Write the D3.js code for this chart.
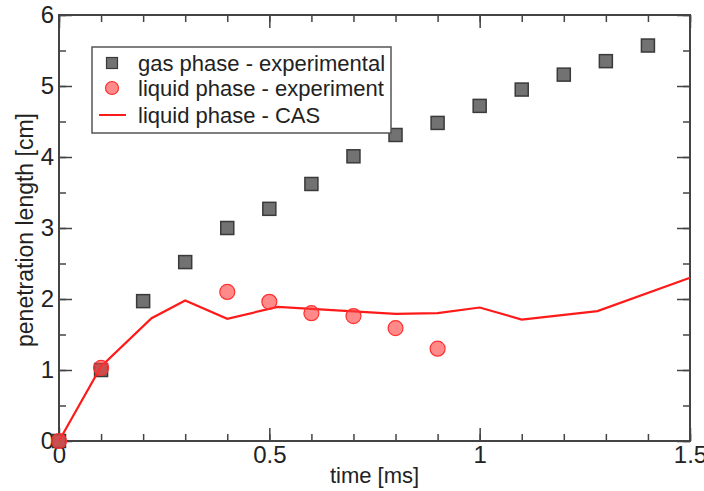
<!DOCTYPE html>
<html>
<head>
<meta charset="utf-8">
<script src="https://cdn.jsdelivr.net/npm/d3@7"></script>
<style>
  body { margin: 0; background: #fff; }
  text { font-family: "Liberation Sans", Arial, sans-serif; fill: #222; }
</style>
</head>
<body>
<div id="chart"></div>
<script>
// gas phase - experimental (squares)
const gasTime = [0, 0.1, 0.2, 0.3, 0.4, 0.5, 0.6, 0.7, 0.8, 0.9, 1.0, 1.1, 1.2, 1.3, 1.4]
const gasLen = [0, 1.0, 1.97, 2.52, 3.0, 3.27, 3.62, 4.01, 4.31, 4.48, 4.72, 4.95, 5.16, 5.35, 5.57]

// liquid phase - experiment (circles)
const liqTime = [0, 0.1, 0.4, 0.5, 0.6, 0.7, 0.8, 0.9]
const liqLen = [0, 1.03, 2.1, 1.96, 1.8, 1.76, 1.59, 1.3]

// liquid phase - CAS (line)
const casTime = [0, 0.1, 0.22, 0.3, 0.4, 0.52, 0.8, 0.9, 1.0, 1.1, 1.28, 1.5]
const casLen = [0, 1.05, 1.73, 1.98, 1.72, 1.89, 1.79, 1.8, 1.88, 1.71, 1.83, 2.3]

const xTicks = [0, 0.5, 1, 1.5]
const yTicks = [0, 1, 2, 3, 4, 5, 6]
const legendLabels = ["gas phase - experimental", "liquid phase - experiment", "liquid phase - CAS"]

/* CONSTANTS */
const width = 704
const height = 491
const margin = { top: 15, bottom: 50, left: 59, right: 14 }

const svg = d3.select("#chart")
  .append("svg")
  .attr("width", width)
  .attr("height", height)

// SCALES
const xScale = d3.scaleLinear()
  .domain([0, 1.5])
  .range([margin.left, width - margin.right])

const yScale = d3.scaleLinear()
  .domain([0, 6])
  .range([height - margin.bottom, margin.top])

const fmt = d => d3.format("~g")(d)
const minorX = d3.range(0, 1.51, 0.1).map(d => +d.toFixed(1))
const minorY = d3.range(0, 6.01, 0.5)

// AXES - ticks point inward on all four sides
function styleAxis(g) {
  g.select(".domain").remove()
  g.selectAll("line").attr("stroke", "#444").attr("stroke-width", 1.5)
  g.selectAll("text").style("font-size", "24px").attr("fill", "#222")
}

// bottom
svg.append("g")
  .attr("transform", `translate(0, ${yScale(0)})`)
  .call(d3.axisBottom(xScale).tickValues(minorX).tickSize(-7).tickFormat(""))
  .call(styleAxis)
svg.append("g")
  .attr("transform", `translate(0, ${yScale(0)})`)
  .call(d3.axisBottom(xScale).tickValues(xTicks).tickSize(-13).tickPadding(5).tickFormat(fmt))
  .call(styleAxis)
// top
svg.append("g")
  .attr("transform", `translate(0, ${yScale(6)})`)
  .call(d3.axisTop(xScale).tickValues(minorX).tickSize(-7).tickFormat(""))
  .call(styleAxis)
svg.append("g")
  .attr("transform", `translate(0, ${yScale(6)})`)
  .call(d3.axisTop(xScale).tickValues(xTicks).tickSize(-13).tickFormat(""))
  .call(styleAxis)
// left
svg.append("g")
  .attr("transform", `translate(${xScale(0)}, 0)`)
  .call(d3.axisLeft(yScale).tickValues(minorY).tickSize(-7).tickFormat(""))
  .call(styleAxis)
svg.append("g")
  .attr("transform", `translate(${xScale(0)}, 0)`)
  .call(d3.axisLeft(yScale).tickValues(yTicks).tickSize(-13).tickPadding(5).tickFormat(fmt))
  .call(styleAxis)
// right
svg.append("g")
  .attr("transform", `translate(${xScale(1.5)}, 0)`)
  .call(d3.axisRight(yScale).tickValues(minorY).tickSize(-7).tickFormat(""))
  .call(styleAxis)
svg.append("g")
  .attr("transform", `translate(${xScale(1.5)}, 0)`)
  .call(d3.axisRight(yScale).tickValues(yTicks).tickSize(-13).tickFormat(""))
  .call(styleAxis)

// frame
svg.append("rect")
  .attr("x", xScale(0))
  .attr("y", yScale(6))
  .attr("width", xScale(1.5) - xScale(0))
  .attr("height", yScale(0) - yScale(6))
  .attr("fill", "none")
  .attr("stroke", "#444")
  .attr("stroke-width", 2)

// axis titles
svg.append("text")
  .attr("x", (xScale(0) + xScale(1.5)) / 2)
  .attr("y", 483)
  .attr("text-anchor", "middle")
  .style("font-size", "22px")
  .text("time [ms]")

svg.append("text")
  .attr("transform", `translate(${33}, ${(yScale(0) + yScale(6)) / 2 + 2}) rotate(-90)`)
  .attr("text-anchor", "middle")
  .style("font-size", "23px")
  .text("penetration length [cm]")

// DATA
const gas = gasTime.map((t, i) => ({ t: t, v: gasLen[i] }))
const liq = liqTime.map((t, i) => ({ t: t, v: liqLen[i] }))
const cas = casTime.map((t, i) => ({ t: t, v: casLen[i] }))

const sq = 13
svg.selectAll(".gas")
  .data(gas)
  .join("rect")
    .attr("class", "gas")
    .attr("x", d => xScale(d.t) - sq / 2)
    .attr("y", d => yScale(d.v) - sq / 2)
    .attr("width", sq)
    .attr("height", sq)
    .attr("fill", "#727272")
    .attr("stroke", "#3a3a3a")
    .attr("stroke-width", 1.5)

const line = d3.line()
  .x(d => xScale(d.t))
  .y(d => yScale(d.v))

svg.append("path")
  .attr("d", line(cas))
  .attr("fill", "none")
  .attr("stroke", "#ff1a1a")
  .attr("stroke-width", 2.2)

svg.selectAll(".liq")
  .data(liq)
  .join("circle")
    .attr("class", "liq")
    .attr("cx", d => xScale(d.t))
    .attr("cy", d => yScale(d.v))
    .attr("r", 7.5)
    .attr("fill", "rgba(255,60,60,0.6)")
    .attr("stroke", "#ff3030")
    .attr("stroke-width", 1.2)

// LEGEND
const legend = svg.append("g").attr("transform", "translate(92, 47)")
legend.append("rect")
  .attr("width", 299)
  .attr("height", 86)
  .attr("fill", "#fff")
  .attr("stroke", "#555")
  .attr("stroke-width", 1.5)

const rowY = [16, 41, 68]
legend.append("rect")
  .attr("x", 20 - 5.5).attr("y", rowY[0] - 5.5)
  .attr("width", 11).attr("height", 11)
  .attr("fill", "#727272").attr("stroke", "#3a3a3a").attr("stroke-width", 1.2)
legend.append("circle")
  .attr("cx", 20).attr("cy", rowY[1]).attr("r", 6.5)
  .attr("fill", "rgba(255,60,60,0.6)").attr("stroke", "#ff3030").attr("stroke-width", 1.2)
legend.append("line")
  .attr("x1", 7).attr("x2", 34).attr("y1", rowY[2]).attr("y2", rowY[2])
  .attr("stroke", "#ff1a1a").attr("stroke-width", 2)

legend.selectAll(".lt")
  .data(legendLabels)
  .join("text")
    .attr("class", "lt")
    .attr("x", 46)
    .attr("y", (d, i) => rowY[i])
    .attr("dy", "0.35em")
    .style("font-size", "22px")
    .text(d => d)
</script>
</body>
</html>
